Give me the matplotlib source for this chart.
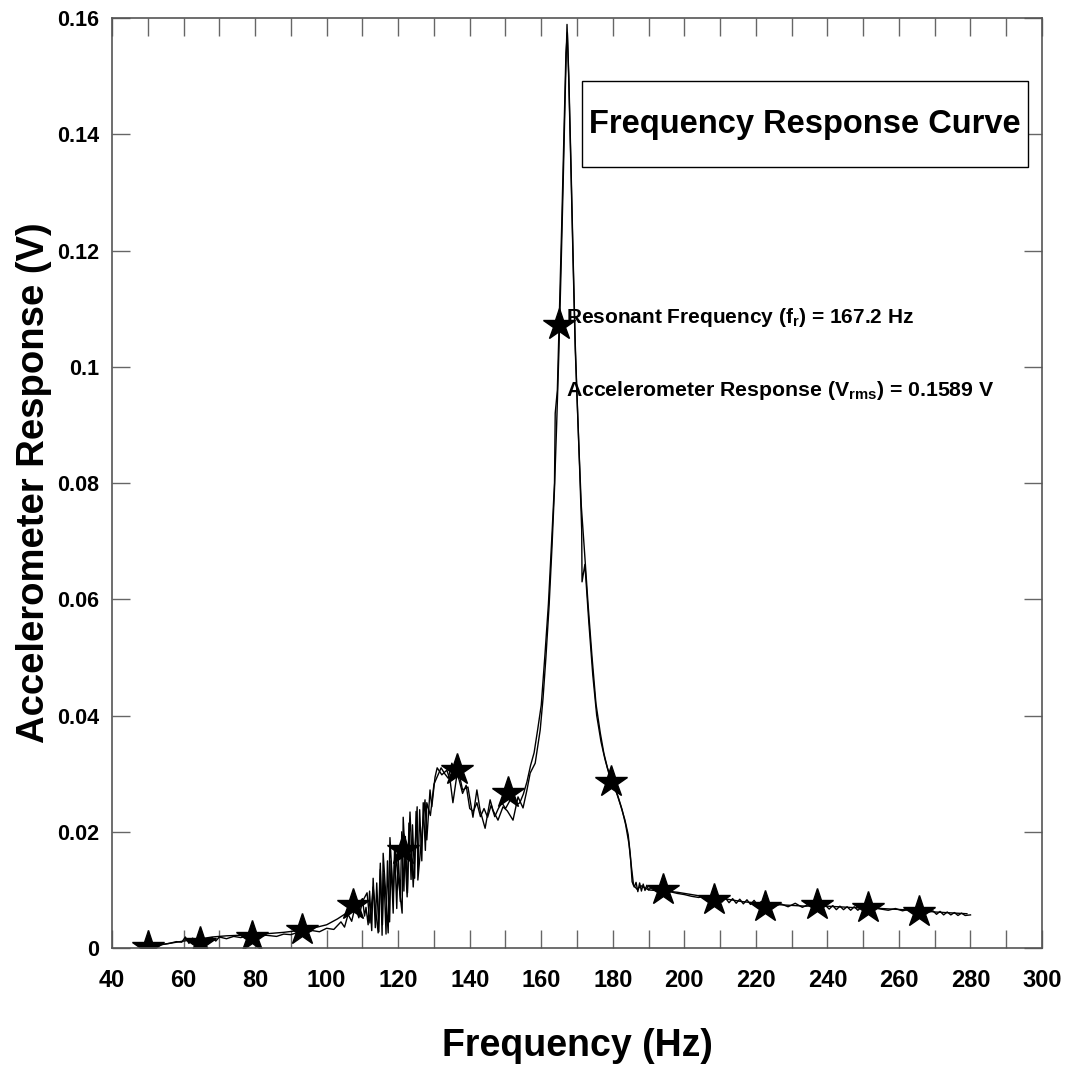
import matplotlib
matplotlib.use("Agg")
import matplotlib.pyplot as plt
from matplotlib.patches import Rectangle
from matplotlib.ticker import MultipleLocator, FuncFormatter

# Resonance measurement: sweep up and sweep down traces, (Hz, V rms) pairs
sweep_up = [
    (50.0, 0.0002), (52.0, 0.0004), (54.0, 0.0006), (56.0, 0.0008), (58.0, 0.0011),
    (59.5, 0.0010), (60.5, 0.0019), (61.5, 0.0008), (62.5, 0.0017), (64.0, 0.0011),
    (66.0, 0.0015), (68.0, 0.0018), (69.0, 0.0012), (70.0, 0.0019), (72.0, 0.0016),
    (74.0, 0.0020), (76.0, 0.0018), (78.0, 0.0021), (80.0, 0.0019), (83.0, 0.0022),
    (86.0, 0.0020), (88.0, 0.0024), (90.0, 0.0023), (92.0, 0.0027), (94.0, 0.0025),
    (96.0, 0.0030), (98.0, 0.0028), (100.0, 0.0034), (102.0, 0.0032), (104.0, 0.0045),
    (105.0, 0.0036), (106.0, 0.0058), (107.0, 0.0046), (108.0, 0.0072), (109.0, 0.0052),
    (110.0, 0.0080), (111.3, 0.0095), (112.1, 0.0043), (113.0, 0.0105), (114.4, 0.0026),
    (115.0, 0.0146), (115.5, 0.0022), (115.8, 0.0163), (117.2, 0.0026), (117.7, 0.0190),
    (118.6, 0.0088), (119.1, 0.0169), (121.1, 0.0060), (121.4, 0.0225), (122.5, 0.0088),
    (123.3, 0.0234), (124.2, 0.0105), (125.3, 0.0243), (125.5, 0.0117), (127.5, 0.0255),
    (128.0, 0.0186), (128.9, 0.0272), (129.4, 0.0243), (130.3, 0.0294), (130.9, 0.0310),
    (132.2, 0.0298), (133.6, 0.0306), (134.5, 0.0289), (135.3, 0.0250), (136.7, 0.0310),
    (138.0, 0.0272), (139.5, 0.0277), (140.9, 0.0225), (142.0, 0.0272), (142.9, 0.0237),
    (144.3, 0.0206), (145.7, 0.0255), (146.5, 0.0237), (147.9, 0.0220), (149.3, 0.0243),
    (150.5, 0.0236), (152.1, 0.0220), (153.5, 0.0260), (154.9, 0.0241), (156.0, 0.0272),
    (156.9, 0.0301), (158.3, 0.0318), (159.7, 0.0375), (160.5, 0.0430), (161.3, 0.0500),
    (162.2, 0.0590), (163.0, 0.0690), (163.7, 0.0790), (164.3, 0.0900), (164.9, 0.1020),
    (165.5, 0.1160), (166.1, 0.1310), (166.7, 0.1470), (167.2, 0.1589), (167.7, 0.1500),
    (168.3, 0.1350), (168.9, 0.1190), (169.5, 0.1040), (170.0, 0.0950), (170.6, 0.0850),
    (171.2, 0.0760), (172.0, 0.0690), (173.1, 0.0590), (174.2, 0.0500), (175.3, 0.0420),
    (176.5, 0.0370), (177.5, 0.0335), (178.5, 0.0310), (179.8, 0.0286), (181.0, 0.0268),
    (182.2, 0.0245), (183.4, 0.0220), (184.3, 0.0195), (184.9, 0.0160), (185.4, 0.0114),
    (186.0, 0.0105), (186.5, 0.0113), (187.0, 0.0097), (187.5, 0.0112), (188.0, 0.0098),
    (188.5, 0.0110), (189.0, 0.0099), (189.5, 0.0108), (190.0, 0.0100), (191.0, 0.0106),
    (192.0, 0.0102), (194.0, 0.0100), (196.0, 0.0097), (198.0, 0.0094), (200.0, 0.0092),
    (202.0, 0.0089), (204.0, 0.0087), (205.5, 0.0089), (206.5, 0.0081), (207.5, 0.0088),
    (208.5, 0.0080), (209.5, 0.0087), (210.5, 0.0079), (211.5, 0.0086), (212.5, 0.0078),
    (213.5, 0.0085), (214.5, 0.0077), (215.5, 0.0084), (216.5, 0.0076), (217.5, 0.0083),
    (218.5, 0.0075), (219.5, 0.0082), (220.5, 0.0074), (221.5, 0.0080), (223.0, 0.0073),
    (225.0, 0.0072), (227.0, 0.0076), (229.0, 0.0071), (231.0, 0.0077), (233.0, 0.0070),
    (235.0, 0.0076), (237.0, 0.0072), (238.5, 0.0074), (239.5, 0.0073), (240.5, 0.0067),
    (241.5, 0.0073), (242.5, 0.0066), (243.5, 0.0072), (244.5, 0.0066), (245.5, 0.0071),
    (246.5, 0.0065), (247.5, 0.0071), (248.5, 0.0065), (249.5, 0.0070), (251.0, 0.0064),
    (253.0, 0.0069), (255.0, 0.0067), (257.0, 0.0065), (259.0, 0.0068), (261.0, 0.0064),
    (263.0, 0.0067), (265.0, 0.0063), (267.0, 0.0065), (268.5, 0.0062), (269.5, 0.0064),
    (270.5, 0.0058), (271.5, 0.0063), (272.5, 0.0057), (273.5, 0.0062), (274.5, 0.0057),
    (275.5, 0.0061), (276.5, 0.0056), (277.5, 0.0060), (278.5, 0.0056), (280.0, 0.0057),
]

sweep_down = [
    (52.0, 0.0004), (56.0, 0.0008), (60.0, 0.0012), (64.0, 0.0015), (68.0, 0.0019),
    (72.0, 0.0021), (76.0, 0.0022), (80.0, 0.0023), (84.0, 0.0025), (88.0, 0.0027),
    (92.0, 0.0030), (96.0, 0.0034), (100.0, 0.0040), (103.0, 0.0050), (106.0, 0.0062),
    (108.5, 0.0074), (110.0, 0.0085), (110.6, 0.0055), (111.0, 0.0070), (111.6, 0.0040),
    (112.0, 0.0098), (112.6, 0.0030), (113.0, 0.0120), (113.6, 0.0035), (114.0, 0.0112),
    (114.6, 0.0028), (115.0, 0.0135), (115.6, 0.0040), (116.0, 0.0128), (116.6, 0.0024),
    (117.0, 0.0150), (117.6, 0.0045), (118.0, 0.0150), (118.6, 0.0060), (119.0, 0.0175),
    (119.6, 0.0068), (120.0, 0.0162), (120.6, 0.0080), (121.0, 0.0200), (121.6, 0.0098),
    (122.0, 0.0192), (122.6, 0.0095), (123.0, 0.0215), (123.6, 0.0118), (124.0, 0.0212),
    (124.6, 0.0120), (125.0, 0.0235), (125.6, 0.0140), (126.0, 0.0238), (126.6, 0.0150),
    (127.0, 0.0250), (127.6, 0.0168), (128.0, 0.0250), (129.0, 0.0228), (130.0, 0.0282),
    (131.0, 0.0296), (132.0, 0.0310), (133.0, 0.0300), (134.0, 0.0292), (135.0, 0.0318),
    (136.0, 0.0304), (137.0, 0.0290), (138.0, 0.0266), (139.0, 0.0280), (140.0, 0.0240),
    (141.0, 0.0235), (142.0, 0.0250), (143.0, 0.0226), (144.0, 0.0240), (145.0, 0.0225),
    (146.0, 0.0246), (147.0, 0.0226), (148.0, 0.0240), (149.0, 0.0250), (150.0, 0.0240),
    (151.0, 0.0251), (152.0, 0.0264), (153.0, 0.0246), (154.0, 0.0250), (155.0, 0.0265),
    (156.0, 0.0286), (157.0, 0.0314), (158.0, 0.0336), (159.0, 0.0376), (160.0, 0.0418),
    (161.0, 0.0502), (162.0, 0.0592), (163.0, 0.0712), (163.7, 0.0800), (163.9, 0.0920),
    (164.5, 0.0960), (165.1, 0.1100), (165.7, 0.1240), (166.3, 0.1390), (166.9, 0.1540),
    (167.3, 0.1575), (167.7, 0.1490), (168.3, 0.1340), (168.9, 0.1180), (169.5, 0.1030),
    (170.1, 0.0930), (170.7, 0.0830), (171.3, 0.0720), (171.4, 0.0630), (172.2, 0.0660),
    (173.3, 0.0560), (174.4, 0.0470), (175.5, 0.0400), (176.7, 0.0355), (177.8, 0.0325),
    (179.0, 0.0298), (180.2, 0.0280), (181.4, 0.0262), (182.6, 0.0238), (183.6, 0.0212),
    (184.5, 0.0180), (185.2, 0.0140), (185.8, 0.0108), (186.8, 0.0101), (188.0, 0.0107),
    (190.0, 0.0100), (192.0, 0.0099), (195.0, 0.0098), (198.0, 0.0096), (201.0, 0.0093),
    (204.0, 0.0090), (207.0, 0.0088), (210.0, 0.0086), (213.0, 0.0083), (216.0, 0.0080),
    (219.0, 0.0078), (222.0, 0.0077), (225.0, 0.0075), (228.0, 0.0074), (231.0, 0.0073),
    (234.0, 0.0072), (237.0, 0.0073), (240.0, 0.0072), (243.0, 0.0071), (246.0, 0.0070),
    (249.0, 0.0069), (252.0, 0.0069), (255.0, 0.0068), (258.0, 0.0067), (261.0, 0.0066),
    (264.0, 0.0065), (267.0, 0.0064), (270.0, 0.0062), (273.0, 0.0061), (276.0, 0.0060),
    (279.0, 0.0059),
]

# Sampled points marked with stars
star_freq = [50.1, 64.6, 79.1, 93.1, 107.4, 121.4, 136.4, 150.7, 165.0, 179.5,
             194.0, 208.3, 222.6, 237.1, 251.4, 265.6]
star_resp = [0.0002, 0.0009, 0.0019, 0.0031, 0.0074, 0.0169, 0.0306, 0.0267, 0.1072,
             0.0286, 0.0100, 0.0083, 0.0071, 0.0074, 0.0069, 0.0062]

resonant_freq = 167.2
resonant_vrms = 0.1589

plt.rcParams["font.family"] = ["Liberation Sans", "DejaVu Sans"]
plt.rcParams["font.weight"] = "bold"
plt.rcParams["mathtext.fontset"] = "custom"
plt.rcParams["mathtext.rm"] = "Liberation Sans:bold"
plt.rcParams["mathtext.it"] = "Liberation Sans:bold"
plt.rcParams["mathtext.bf"] = "Liberation Sans:bold"

up_f, up_v = zip(*sweep_up)
down_f, down_v = zip(*sweep_down)

fig = plt.figure(figsize=(10.67, 10.67), dpi=100)
ax = fig.add_axes([0.105, 0.1115, 0.8716, 0.8716])

ax.plot(up_f, up_v, color="black", linewidth=1.0)
ax.plot(down_f, down_v, color="black", linewidth=1.0)
ax.plot(star_freq, star_resp, linestyle="none", marker="*", markersize=24,
        color="black")

ax.set_xlim(40, 300)
ax.set_ylim(0, 0.16)
ax.xaxis.set_major_locator(MultipleLocator(20))
ax.xaxis.set_minor_locator(MultipleLocator(10))
ax.yaxis.set_major_locator(MultipleLocator(0.02))
ax.yaxis.set_major_formatter(FuncFormatter(lambda v, p: f"{v:g}"))

for s in ax.spines.values():
    s.set_color("#555555")
    s.set_linewidth(1.2)
ax.tick_params(which="both", direction="in", length=13, width=1.0,
               color="#666666", top=True, right=True)
ax.tick_params(axis="x", which="major", labelsize=17, pad=15)
ax.tick_params(axis="y", which="major", labelsize=15.5, pad=9)
ax.tick_params(axis="y", which="minor", left=False, right=False)

ax.set_xlabel("Frequency (Hz)", fontsize=27, fontweight="bold", labelpad=26)
ax.set_ylabel("Accelerometer Response (V)", fontsize=27.5, fontweight="bold",
              labelpad=4)

# Title box in the upper right
ax.add_patch(Rectangle((0.505, 0.840), 0.48, 0.092, transform=ax.transAxes,
                       facecolor="white", edgecolor="black", linewidth=1.0,
                       zorder=3))
ax.text(0.745, 0.886, "Frequency Response Curve", transform=ax.transAxes,
        ha="center", va="center", fontsize=23.5, fontweight="bold", zorder=4)

ax.text(166.9, 0.1084, f"Resonant Frequency (f$_r$) = {resonant_freq:.1f} Hz",
        ha="left", va="center", fontsize=15, fontweight="bold")
ax.text(166.9, 0.0960,
        f"Accelerometer Response (V$_{{rms}}$) = {resonant_vrms:.4f} V",
        ha="left", va="center", fontsize=15.3, fontweight="bold")

fig.savefig("out.png", dpi=100)
